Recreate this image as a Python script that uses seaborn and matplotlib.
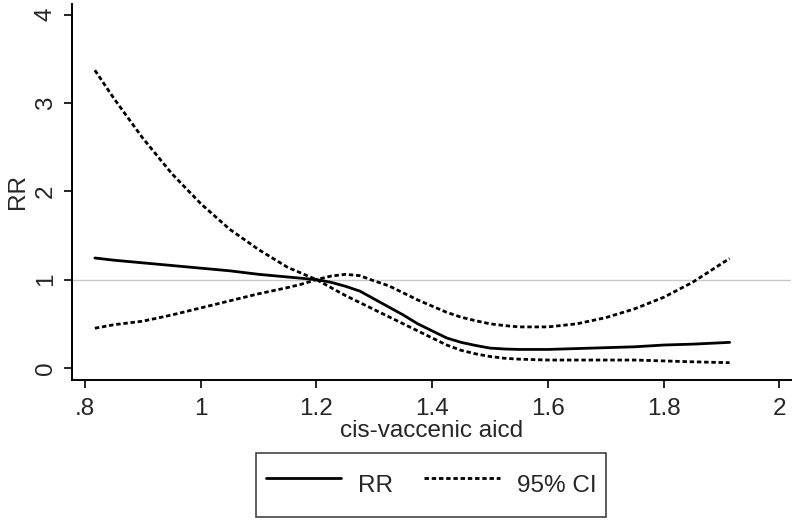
import numpy as np
import pandas as pd
import seaborn as sns
import matplotlib.pyplot as plt

sns.set_style("ticks")
plt.rcParams['font.family'] = ['Liberation Sans', 'DejaVu Sans']

# values
x_vals = [0.817, 0.85, 0.9, 0.95, 1.0, 1.05, 1.1, 1.15, 1.175, 1.2, 1.225, 1.25,
          1.275, 1.3, 1.325, 1.35, 1.375, 1.4, 1.425, 1.45, 1.475, 1.5, 1.525,
          1.55, 1.6, 1.65, 1.7, 1.75, 1.8, 1.85, 1.914]
rr = [1.245, 1.22, 1.19, 1.16, 1.13, 1.10, 1.06, 1.03, 1.015, 1.0, 0.97, 0.925,
      0.87, 0.78, 0.69, 0.60, 0.50, 0.42, 0.34, 0.29, 0.255, 0.225, 0.215,
      0.21, 0.21, 0.22, 0.23, 0.24, 0.26, 0.27, 0.29]
ci_a = [3.37, 3.05, 2.6, 2.2, 1.86, 1.57, 1.34, 1.14, 1.07, 1.0, 0.91, 0.82,
        0.74, 0.66, 0.58, 0.50, 0.42, 0.34, 0.26, 0.20, 0.16, 0.13, 0.11,
        0.10, 0.09, 0.09, 0.09, 0.09, 0.08, 0.07, 0.06]
ci_b = [0.45, 0.49, 0.53, 0.60, 0.68, 0.76, 0.84, 0.91, 0.95, 1.0, 1.04, 1.06,
        1.045, 0.985, 0.93, 0.85, 0.77, 0.70, 0.63, 0.575, 0.535, 0.50, 0.48,
        0.465, 0.465, 0.50, 0.57, 0.67, 0.80, 0.97, 1.24]

x_ticks = [0.8, 1.0, 1.2, 1.4, 1.6, 1.8, 2.0]
x_ticklabels = [".8", "1", "1.2", "1.4", "1.6", "1.8", "2"]
y_ticks = [0, 1, 2, 3, 4]

df = pd.DataFrame({"x": x_vals, "rr": rr, "lo": ci_a, "hi": ci_b})

fig = plt.figure(figsize=(8, 5.23), dpi=100)
ax = fig.add_axes([0.09, 0.2734, 0.899, 0.719])

ax.axhline(1, color="#c8c8c8", lw=1.0, zorder=1)
dash = (0, (1.6, 1.0))
sns.lineplot(x="x", y="rr", data=df, ax=ax, color="black", lw=2.0, label="RR")
sns.lineplot(x="x", y="lo", data=df, ax=ax, color="black", lw=2.0, linestyle=dash, label="95% CI")
sns.lineplot(x="x", y="hi", data=df, ax=ax, color="black", lw=2.0, linestyle=dash, label="_nolegend_")

fs = 17.5
ax.set_xlim(0.7775, 2.0204)
ax.set_ylim(-0.136, 4.12)
ax.set_xticks(x_ticks)
ax.set_xticklabels(x_ticklabels)
ax.set_yticks(y_ticks)
ax.set_yticklabels([str(v) for v in y_ticks], rotation=90, va="center")
ax.tick_params(axis="both", direction="out", length=6, width=1.2, labelsize=fs, color="black")
ax.tick_params(axis="x", pad=7)
ax.tick_params(axis="y", pad=5)
for s in ["top", "right"]:
    ax.spines[s].set_visible(False)
for s in ["left", "bottom"]:
    ax.spines[s].set_linewidth(1.4)
    ax.spines[s].set_color("black")

ax.set_xlabel("cis-vaccenic aicd", fontsize=fs, labelpad=0)
ax.set_ylabel("RR", fontsize=fs, labelpad=4)

handles, labels = ax.get_legend_handles_labels()
ax.legend_.remove()
leg = fig.legend(handles, labels, loc="center", bbox_to_anchor=(431 / 800, 1 - 485 / 523),
                 ncol=2, fontsize=fs, frameon=True, fancybox=False, edgecolor="black",
                 handlelength=3.1, handletextpad=0.7, columnspacing=1.3, borderpad=0.4,
                 handleheight=2.4)
leg.get_frame().set_linewidth(1.1)

fig.savefig("out.png", dpi=100)
